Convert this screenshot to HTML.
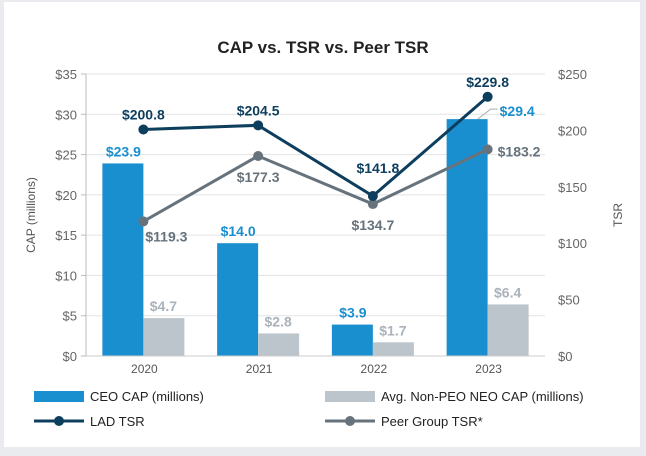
<!DOCTYPE html>
<html><head><meta charset="utf-8"><style>
body{margin:0;background:#fff}
svg{display:block;font-family:"Liberation Sans",sans-serif}
</style></head><body>
<svg id="c" width="646" height="456" viewBox="0 0 646 456">
<rect x="0" y="0" width="646" height="456" fill="#e9ebee"/>
<rect x="4" y="2" width="636" height="445" fill="#fff"/>
<text x="323" y="53" text-anchor="middle" font-size="17" font-weight="bold" fill="#222">CAP vs. TSR vs. Peer TSR</text>
<g id="grid"></g><g id="bars"></g><g id="lines"></g><g id="axes"></g>
<text transform="translate(35,215) rotate(-90)" text-anchor="middle" font-size="12" fill="#555">CAP (millions)</text>
<text transform="translate(622,215) rotate(-90)" text-anchor="middle" font-size="12" fill="#555">TSR</text>
<g font-size="13" fill="#222">
<g><rect x="34" y="391" width="50" height="11" fill="#1a8fd0"/><text x="90" y="401">CEO CAP (millions)</text></g>
<g><rect x="325" y="391" width="50" height="11" fill="#bcc4cc"/><text x="381" y="401">Avg. Non-PEO NEO CAP (millions)</text></g>
<g><line x1="34" y1="421" x2="84" y2="421" stroke="#0e3e5e" stroke-width="3"/><circle cx="59" cy="421" r="5" fill="#0e3e5e"/><text x="90" y="426">LAD TSR</text></g>
<g><line x1="325" y1="421" x2="375" y2="421" stroke="#66737d" stroke-width="3"/><circle cx="350" cy="421" r="5" fill="#66737d"/><text x="381" y="426">Peer Group TSR*</text></g>
</g>
</svg>
<script>
const years=["2020","2021","2022","2023"];
const ceoCap=[23.9,14.0,3.9,29.4];
const neoCap=[4.7,2.8,1.7,6.4];
const ladTsr=[200.8,204.5,141.8,229.8];
const peerTsr=[119.3,177.3,134.7,183.2];
const leftTicks=[0,5,10,15,20,25,30,35];
const rightTicks=[0,50,100,150,200,250];
const NS="http://www.w3.org/2000/svg";
const x0=86,x1=545,yb=356,yt=74;
const bw=(x1-x0)/years.length;
const cx=i=>x0+bw*(i+0.5);
const yL=v=>yb-(v/35)*(yb-yt);
const yR=v=>yb-(v/250)*(yb-yt);
function mk(p,t,a,txt){const e=document.createElementNS(NS,t);for(const k in a)e.setAttribute(k,a[k]);if(txt!==undefined)e.textContent=txt;document.getElementById(p).appendChild(e);return e;}
leftTicks.forEach(v=>{
 if(v>0){const g=mk('grid','line',{x1:x0,x2:x1,y1:yL(v),y2:yL(v),stroke:'#e3e3e3'});
 
 }
 const t=mk('axes','text',{x:77,y:yL(v)+5,'text-anchor':'end','font-size':13,fill:'#666'},'$'+v);
 
 
 const tk=mk('axes','line',{x1:x0-5,x2:x0,y1:yL(v),y2:yL(v),stroke:'#bbb'});
 
 
});
rightTicks.forEach(v=>{
 const t=mk('axes','text',{x:558,y:yR(v)+5,'font-size':13,fill:'#666'},'$'+v);
 
 
});
let a=mk('axes','line',{x1:x0,x2:x0,y1:yt,y2:yb,stroke:'#bbb'});


a=mk('axes','line',{x1:x0,x2:x1,y1:yb,y2:yb,stroke:'#ccc'});


years.forEach((y,i)=>{
 const t=mk('axes','text',{x:cx(i)+1,y:yb+17,'text-anchor':'middle','font-size':12,fill:'#555'},y);
 
 
 const b1=mk('bars','rect',{x:cx(i)-41,y:yL(ceoCap[i]),width:41,height:yb-yL(ceoCap[i]),fill:'#1a8fd0'});
 
 
 const b2=mk('bars','rect',{x:cx(i),y:yL(neoCap[i]),width:41,height:yb-yL(neoCap[i]),fill:'#bcc4cc'});
 
 
 const last=i===years.length-1;
 if(last){
  const ld=mk('bars','polyline',{points:(cx(i)-10)+','+yL(ceoCap[i])+' '+(cx(i)+3)+','+(yL(ceoCap[i])-10)+' '+(cx(i)+10)+','+(yL(ceoCap[i])-10),fill:'none',stroke:'#aaa','stroke-width':1});
  
  
 }
 const l1=mk('bars','text',last?{x:cx(i)+12,y:yL(ceoCap[i])-3,'text-anchor':'start','font-size':14,'font-weight':'bold',fill:'#1a8fd0'}:{x:cx(i)-20,y:yL(ceoCap[i])-7,'text-anchor':'middle','font-size':14,'font-weight':'bold',fill:'#1a8fd0'},'$'+ceoCap[i].toFixed(1));
 
 
 const l2=mk('bars','text',{x:cx(i)+20,y:yL(neoCap[i])-7,'text-anchor':'middle','font-size':14,'font-weight':'bold',fill:'#aab2ba'},'$'+neoCap[i].toFixed(1));
 
 
});
function series(vals,col,name,lblPos){
 const p=mk('lines','polyline',{points:vals.map((v,i)=>cx(i)+','+yR(v)).join(' '),fill:'none',stroke:col,'stroke-width':3});
 
 
 vals.forEach((v,i)=>{
  const c=mk('lines','circle',{cx:cx(i),cy:yR(v),r:5,fill:col});
  
  
  const [dx,dy,anc]=lblPos[i];
  const t=mk('lines','text',{x:cx(i)+dx,y:yR(v)+dy,'text-anchor':anc,'font-size':14,'font-weight':'bold',fill:col},'$'+v.toFixed(1));
  
  
 });
}
series(peerTsr,'#66737d','peer-tsr',[[2,20,'start'],[0,26,'middle'],[0,26,'middle'],[10,7,'start']]);
series(ladTsr,'#0e3e5e','lad-tsr',[[0,-10,'middle'],[0,-10,'middle'],[5,-23,'middle'],[0,-10,'middle']]);
</script>
</body></html>
